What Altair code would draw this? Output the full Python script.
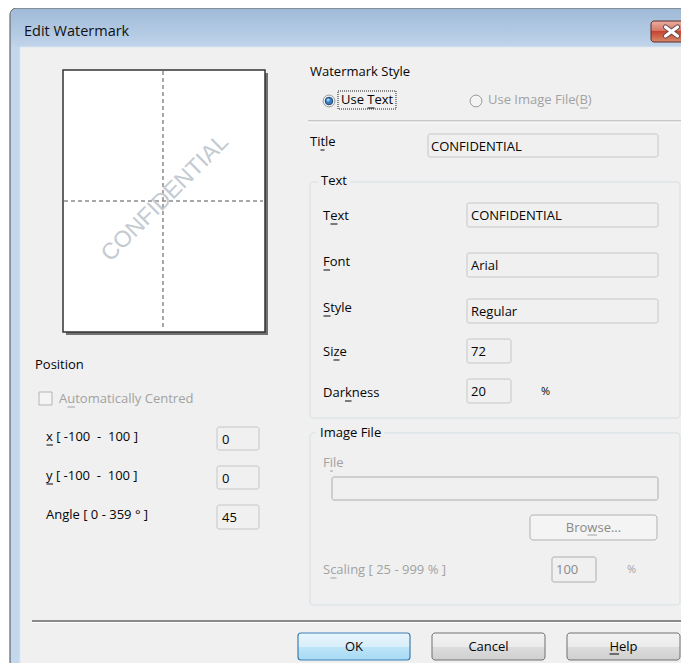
import altair as alt
import pandas as pd

# ---------------- content (text and values) ----------------
WINDOW_TITLE = "Edit Watermark"
PREVIEW_TEXT = "CONFIDENTIAL"
PREVIEW_ANGLE = 45
STYLE_HEADER = "Watermark Style"
STYLE_OPTIONS = ["Use Text", "Use Image File(B)"]
STYLE_ENABLED = [True, False]
TITLE_LABEL = "Title"
TITLE_VALUE = "CONFIDENTIAL"
TEXT_GROUP = "Text"
TEXT_LABELS = ["Text", "Font", "Style", "Size", "Darkness"]
TEXT_VALUES = ["CONFIDENTIAL", "Arial", "Regular", "72", "20"]
POSITION_HEADER = "Position"
AUTO_CENTRE = "Automatically Centred"
POSITION_LABELS = ["x [ -100 \u00a0- \u00a0100 ]", "y [ -100 \u00a0- \u00a0100 ]", "Angle [ 0 - 359 ° ]"]
POSITION_VALUES = ["0", "0", "45"]
IMAGE_GROUP = "Image File"
FILE_LABEL = "File"
BROWSE_LABEL = "Browse..."
SCALING_LABEL = "Scaling [ 25 - 999 % ]"
SCALING_VALUE = "100"
PERCENT = "%"
BUTTONS = ["OK", "Cancel", "Help"]

# ---------------- layout (pixel geometry of the dialog) ----------------
W, H = 673, 655
XS = alt.Scale(domain=[8, 8 + W], nice=False, zero=False)
YS = alt.Scale(domain=[8, 8 + H], nice=False, zero=False, reverse=True)
FONT = "Open Sans"
FS = 13
DARK = "#050505"
GRAY = "#a2a2a2"

TEXT_ROW_LABEL_Y = [216, 262, 308, 352, 393]
TEXT_ROW_BOX = [(467, 658, 203, 227), (467, 658, 253, 277), (467, 658, 299, 323),
                (467, 511, 339, 363), (467, 511, 379, 403)]
POS_ROW_LABEL_Y = [437, 476, 515]
POS_ROW_BOX = [(217, 259, 427, 450), (217, 259, 466, 489), (217, 259, 505, 529)]
BUTTON_BOX = [(298, 410, 633, 660), (432, 545, 633, 660), (567, 680, 633, 660)]

# mnemonic underlines: (x start, x end, y, colour)
UNDERLINES = [
    (367.5, 374.5, 108, DARK),    # Use Text
    (320.5, 324.5, 150, DARK),    # Title
    (330.5, 337.5, 224, DARK),    # Text
    (323.5, 330.0, 270, DARK),    # Font
    (323.5, 330.5, 316, DARK),    # Style
    (333.5, 339.5, 360, DARK),    # Size
    (345.0, 351.5, 401, DARK),    # Darkness
    (67.5, 75.0, 407, GRAY),      # Automatically
    (46.5, 53.0, 445, DARK),      # x
    (46.5, 53.0, 484, DARK),      # y
    (330.0, 333.0, 471, GRAY),    # File
    (587.5, 597.0, 535, GRAY),    # Browse
    (330.5, 336.5, 578, GRAY),    # Scaling
    (609.5, 619.0, 654, DARK),    # Help
    (580.0, 588.0, 108, GRAY),    # (B)
]


def df(rows):
    return pd.DataFrame(rows)


def rects(rows, **kw):
    return alt.Chart(df(rows)).mark_rect(**kw).encode(
        x=alt.X("x0:Q", scale=XS, axis=None), x2="x1:Q",
        y=alt.Y("y0:Q", scale=YS, axis=None), y2="y1:Q")


def texts(rows, **kw):
    base = dict(font=FONT, fontSize=FS, align="left", baseline="middle")
    base.update(kw)
    return alt.Chart(df(rows)).mark_text(**base).encode(
        x=alt.X("x:Q", scale=XS, axis=None),
        y=alt.Y("y:Q", scale=YS, axis=None),
        text="t:N",
        color=alt.Color("c:N", scale=None))


def hrule(rows, **kw):
    return alt.Chart(df(rows)).mark_rule(**kw).encode(
        x=alt.X("x0:Q", scale=XS, axis=None), x2="x1:Q",
        y=alt.Y("y:Q", scale=YS, axis=None))


def vrule(rows, **kw):
    return alt.Chart(df(rows)).mark_rule(**kw).encode(
        x=alt.X("x:Q", scale=XS, axis=None),
        y=alt.Y("y0:Q", scale=YS, axis=None), y2="y1:Q")


def segs(rows, **kw):
    return alt.Chart(df(rows)).mark_rule(**kw).encode(
        x=alt.X("x0:Q", scale=XS, axis=None), x2="x1:Q",
        y=alt.Y("y0:Q", scale=YS, axis=None), y2="y1:Q")


def points(rows, **kw):
    return alt.Chart(df(rows)).mark_point(**kw).encode(
        x=alt.X("x:Q", scale=XS, axis=None),
        y=alt.Y("y:Q", scale=YS, axis=None))


def grad(stops):
    return alt.LinearGradient(gradient="linear", x1=0, x2=0, y1=0, y2=1,
                              stops=[alt.GradientStop(offset=o, color=c) for o, c in stops])


def box(b):
    return {"x0": b[0], "x1": b[1], "y0": b[2], "y1": b[3]}


layers = []

# window frame
layers.append(rects([{"x0": 10, "x1": 720, "y0": 8, "y1": 720}],
                    fill="#c3d7ed", stroke="#4b4b4b", strokeWidth=1, cornerRadius=7))
layers.append(rects([{"x0": 11, "x1": 720, "y0": 9, "y1": 47}],
                    fill=grad([(0, "#9fbad8"), (1, "#c0d4ea")]), cornerRadiusTopLeft=6))
layers.append(rects([{"x0": 20, "x1": 720, "y0": 47, "y1": 665}],
                    fill="#f0f0f0", stroke="#dde7f2", strokeWidth=1))
layers.append(texts([{"x": 24, "y": 32, "t": WINDOW_TITLE, "c": "#111111"}], fontSize=14.5))

# close button
layers.append(rects([{"x0": 651, "x1": 720, "y0": 21, "y1": 42}],
                    fill=grad([(0, "#eab0a0"), (0.45, "#d8786a"), (0.5, "#c4452f"), (1, "#d98a6c")]),
                    stroke="#5e2b2b", strokeWidth=1, cornerRadius=3))
cross = [{"x0": 665.5, "x1": 677.5, "y0": 27, "y1": 36}, {"x0": 665.5, "x1": 677.5, "y0": 36, "y1": 27}]
layers.append(segs(cross, color="#6a4a4a", strokeWidth=5, strokeCap="round"))
layers.append(segs(cross, color="#ffffff", strokeWidth=3.2, strokeCap="round"))

# preview page
layers.append(rects([{"x0": 66, "x1": 268, "y0": 73, "y1": 335}], fill="#5a5a5a", opacity=0.85))
layers.append(rects([{"x0": 63, "x1": 265, "y0": 70, "y1": 332}],
                    fill="#ffffff", stroke="#333333", strokeWidth=1.5))
layers.append(vrule([{"x": 163, "y0": 71, "y1": 330}], color="#8c8c8c", strokeDash=[4, 3], strokeWidth=1.5))
layers.append(hrule([{"x0": 64, "x1": 263, "y": 201}], color="#8c8c8c", strokeDash=[4, 3], strokeWidth=1.5))
layers.append(texts([{"x": 165, "y": 198, "t": PREVIEW_TEXT, "c": "#c3cad2"}],
                    font="Liberation Sans", fontSize=23, align="center", angle=360 - PREVIEW_ANGLE))

# position section
layers.append(texts([{"x": 35, "y": 365, "t": POSITION_HEADER, "c": DARK}]))
layers.append(rects([{"x0": 39, "x1": 52, "y0": 392, "y1": 405}],
                    fill="#f4f4f4", stroke="#b4b4b4", strokeWidth=1))
layers.append(texts([{"x": 59, "y": 399, "t": AUTO_CENTRE, "c": GRAY}]))
layers.append(rects([box(b) for b in POS_ROW_BOX], fill="#f0f0f0", stroke="#c6c6c6",
                    strokeWidth=1, cornerRadius=2))
layers.append(texts([{"x": 46, "y": y, "t": t, "c": DARK} for y, t in zip(POS_ROW_LABEL_Y, POSITION_LABELS)]))
layers.append(texts([{"x": b[0] + 5, "y": (b[2] + b[3]) / 2 + 1, "t": v, "c": DARK}
                     for b, v in zip(POS_ROW_BOX, POSITION_VALUES)]))

# watermark style
layers.append(texts([{"x": 310, "y": 72, "t": STYLE_HEADER, "c": DARK}]))
radio_x = [329, 476]
layers.append(points([{"x": x, "y": 101} for x in radio_x], shape="circle", size=140,
                     filled=True, fill="#f4f4f4", stroke="#9a9a9a", strokeWidth=1, opacity=1))
layers.append(points([{"x": radio_x[0], "y": 101}], shape="circle", size=58, filled=True,
                     fill="#3a7cc0", stroke="#1c4b78", strokeWidth=1, opacity=1))
layers.append(points([{"x": radio_x[0] - 0.8, "y": 100}], shape="circle", size=10, filled=True,
                     fill="#9fd0f5", opacity=1))
layers.append(rects([{"x0": 338, "x1": 396, "y0": 91, "y1": 109}], fillOpacity=0,
                    stroke="#222222", strokeDash=[1, 1], strokeWidth=1))
layers.append(texts([{"x": x + 12, "y": 100, "t": t, "c": DARK if e else GRAY}
                     for x, t, e in zip(radio_x, STYLE_OPTIONS, STYLE_ENABLED)]))
layers.append(hrule([{"x0": 308, "x1": 684, "y": 121}], color="#a0a0a0", strokeWidth=1))
layers.append(hrule([{"x0": 308, "x1": 684, "y": 122}], color="#ffffff", strokeWidth=1))

# title row
layers.append(texts([{"x": 310, "y": 142, "t": TITLE_LABEL, "c": DARK}]))
layers.append(rects([{"x0": 428, "x1": 658, "y0": 134, "y1": 157}], fill="#f0f0f0",
                    stroke="#c6c6c6", strokeWidth=1, cornerRadius=2))
layers.append(texts([{"x": 431, "y": 146.5, "t": TITLE_VALUE, "c": DARK}]))

# text group
layers.append(rects([{"x0": 310, "x1": 680, "y0": 182, "y1": 418}], fillOpacity=0,
                    stroke="#d5dfe5", strokeWidth=1, cornerRadius=3))
layers.append(rects([{"x0": 318, "x1": 350, "y0": 175, "y1": 189}], fill="#f0f0f0"))
layers.append(texts([{"x": 321, "y": 181, "t": TEXT_GROUP, "c": DARK}]))
layers.append(rects([box(b) for b in TEXT_ROW_BOX], fill="#f0f0f0", stroke="#c6c6c6",
                    strokeWidth=1, cornerRadius=2))
layers.append(texts([{"x": 323, "y": y, "t": t, "c": DARK} for y, t in zip(TEXT_ROW_LABEL_Y, TEXT_LABELS)]))
layers.append(texts([{"x": b[0] + 4, "y": (b[2] + b[3]) / 2 + 1, "t": v, "c": DARK}
                     for b, v in zip(TEXT_ROW_BOX, TEXT_VALUES)]))
layers.append(texts([{"x": 541, "y": 392, "t": PERCENT, "c": DARK}], fontSize=11))

# image file group (disabled)
layers.append(rects([{"x0": 310, "x1": 680, "y0": 433, "y1": 605}], fillOpacity=0,
                    stroke="#d5dfe5", strokeWidth=1, cornerRadius=3))
layers.append(rects([{"x0": 316, "x1": 384, "y0": 426, "y1": 440}], fill="#f0f0f0"))
layers.append(texts([{"x": 320, "y": 433, "t": IMAGE_GROUP, "c": DARK}]))
layers.append(texts([{"x": 323, "y": 463, "t": FILE_LABEL, "c": GRAY}]))
layers.append(rects([{"x0": 332, "x1": 658, "y0": 477, "y1": 500}], fill="#f0f0f0",
                    stroke="#adadad", strokeWidth=1, cornerRadius=2))
layers.append(rects([{"x0": 530, "x1": 657, "y0": 515, "y1": 540}], fill="#f4f4f4",
                    stroke="#adb2b5", strokeWidth=1, cornerRadius=3))
layers.append(texts([{"x": 593.5, "y": 527.5, "t": BROWSE_LABEL, "c": "#8a8a8a"}], align="center"))
layers.append(texts([{"x": 323, "y": 570, "t": SCALING_LABEL, "c": GRAY}]))
layers.append(rects([{"x0": 552, "x1": 596, "y0": 557, "y1": 582}], fill="#f0f0f0",
                    stroke="#adadad", strokeWidth=1, cornerRadius=2))
layers.append(texts([{"x": 556, "y": 569.5, "t": SCALING_VALUE, "c": "#8a8a8a"}]))
layers.append(texts([{"x": 627, "y": 570, "t": PERCENT, "c": GRAY}], fontSize=11))

# bottom separator and buttons
layers.append(hrule([{"x0": 32, "x1": 684, "y": 621}], color="#8a8a8a", strokeWidth=2))
layers.append(hrule([{"x0": 32, "x1": 684, "y": 622.5}], color="#ffffff", strokeWidth=1))
layers.append(rects([box(BUTTON_BOX[0])],
                    fill=grad([(0, "#e9f5fc"), (0.5, "#d9effa"), (0.51, "#bee5f8"), (1, "#a7d9f5")]),
                    stroke="#3c7fb1", strokeWidth=1.2, cornerRadius=3))
layers.append(rects([box(b) for b in BUTTON_BOX[1:]],
                    fill=grad([(0, "#f2f2f2"), (0.5, "#ebebeb"), (0.51, "#dddddd"), (1, "#cfcfcf")]),
                    stroke="#707070", strokeWidth=1, cornerRadius=3))
layers.append(texts([{"x": (b[0] + b[1]) / 2, "y": (b[2] + b[3]) / 2, "t": t, "c": DARK}
                     for b, t in zip(BUTTON_BOX, BUTTONS)], align="center"))

# mnemonic underlines
layers.append(alt.Chart(df([{"x0": a, "x1": b, "y": y, "c": c} for a, b, y, c in UNDERLINES]))
              .mark_rule(strokeWidth=1)
              .encode(x=alt.X("x0:Q", scale=XS, axis=None), x2="x1:Q",
                      y=alt.Y("y:Q", scale=YS, axis=None),
                      color=alt.Color("c:N", scale=None)))

chart = alt.layer(*layers).properties(
    width=W, height=H, padding=0,
    autosize=alt.AutoSizeParams(type="none"),
    background="#ffffff",
).configure_view(strokeWidth=0)

chart.save("out.html", embed_options={"renderer": "svg", "actions": False})
